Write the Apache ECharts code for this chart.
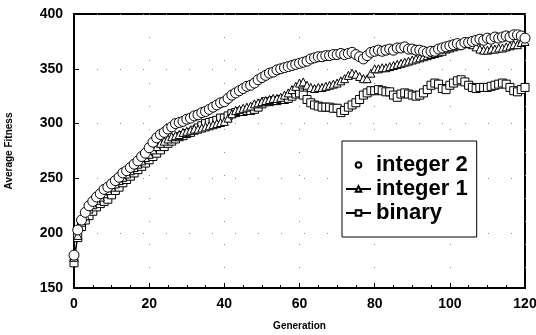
<!DOCTYPE html>
<html>
<head>
<meta charset="utf-8">
<script src="https://cdn.jsdelivr.net/npm/echarts@6/dist/echarts.min.js"></script>
<style>
  html, body { margin: 0; padding: 0; background: #fff; }
  #chart { width: 536px; height: 335px; }
</style>
</head>
<body>
<div id="chart"></div>
<script>
// average fitness per generation (index = generation 0..120)
var integer2 = [180, 203, 212, 219, 225, 229, 233, 236, 240, 242,
  245, 248, 251, 255, 257, 260, 263, 266, 270, 273,
  278, 283, 287, 290, 292, 295, 297, 300, 301, 302,
  304, 305, 307, 308, 310, 311, 313, 315, 317, 319,
  320, 323, 326, 328, 330, 332, 334, 335, 337, 340,
  342, 344, 346, 347, 349, 350, 351, 352, 353, 354,
  355, 356, 357, 359, 360, 361, 361, 362, 362, 363,
  363, 364, 363, 364, 365, 363, 361, 359, 362, 365,
  366, 367, 366, 367, 368, 367, 369, 369, 370, 368,
  368, 367, 367, 366, 365, 366, 366, 368, 369, 370,
  371, 372, 373, 372, 374, 374, 375, 376, 377, 376,
  378, 377, 379, 378, 379, 380, 379, 381, 381, 380, 378];

var integer1 = [178, 198, 210, 216, 222, 226, 230, 233, 236, 239,
  242, 245, 248, 251, 254, 257, 260, 263, 266, 269,
  272, 276, 279, 282, 284, 286, 288, 289, 290, 292,
  293, 294, 295, 295, 296, 297, 298, 299, 300, 301,
  302, 305, 309, 312, 313, 314, 315, 316, 318, 319,
  320, 321, 322, 323, 323, 324, 326, 328, 331, 334,
  337, 338, 335, 333, 332, 333, 333, 334, 335, 336,
  337, 339, 341, 344, 346, 345, 343, 341, 341, 346,
  350, 350, 351, 351, 352, 353, 354, 355, 356, 357,
  358, 359, 360, 361, 362, 363, 364, 365, 366, 368,
  369, 370, 371, 372, 373, 373, 372, 370, 368, 367,
  367, 368, 368, 369, 369, 370, 371, 372, 372, 374, 375];

var binary = [173, 196, 206, 212, 216, 220, 224, 227, 229, 231,
  235, 239, 242, 246, 249, 252, 255, 258, 261, 264,
  267, 270, 273, 276, 279, 282, 284, 286, 288, 289,
  291, 292, 294, 296, 298, 300, 301, 302, 303, 305,
  305, 307, 309, 310, 311, 311, 312, 312, 313, 315,
  318, 320, 320, 321, 321, 322, 322, 323, 325, 327,
  328, 326, 322, 319, 317, 316, 315, 315, 315, 314,
  314, 310, 312, 315, 317, 319, 322, 326, 328, 330,
  330, 331, 330, 329, 329, 326, 324, 327, 328, 327,
  326, 325, 326, 328, 331, 335, 337, 336, 332, 331,
  335, 337, 339, 340, 338, 335, 333, 332, 333, 333,
  333, 334, 335, 336, 337, 336, 333, 330, 329, 331, 333];

var toPoints = function (arr) {
  return arr.map(function (v, i) { return [i, v]; });
};

var chartDom = document.getElementById("chart");
var myChart = echarts.init(chartDom);
var option;

var axisFont = {
  color: "#000",
  fontFamily: "Liberation Sans",
  fontWeight: "bold",
};

option = {
  animation: false,
  backgroundColor: "#fff",
  grid: {
    left: 74,
    right: 11,
    top: 14,
    bottom: 47,
    outerBoundsMode: "none",
    show: true,
    borderColor: "#000",
    borderWidth: 2,
  },
  legend: {
    orient: "vertical",
    left: 342,
    top: 141,
    padding: [13, 9, 13, 3],
    itemGap: 2,
    itemWidth: 25,
    itemHeight: 7,
    backgroundColor: "#fff",
    borderColor: "#000",
    borderWidth: 1,
    textStyle: {
      color: "#000",
      fontFamily: "Liberation Sans",
      fontWeight: "bold",
      fontSize: 22,
      lineHeight: 22,
    },
    data: ["integer 2", "integer 1", "binary"],
  },
  xAxis: {
    type: "value",
    min: 0,
    max: 120,
    interval: 20,
    name: "Generation",
    nameLocation: "middle",
    nameGap: 33,
    nameTextStyle: Object.assign({ fontSize: 10 }, axisFont),
    axisLine: { lineStyle: { color: "#000", width: 2 } },
    axisTick: { inside: true, length: 5, lineStyle: { color: "#000" } },
    minorTick: { show: true, splitNumber: 4, length: 3, lineStyle: { color: "#000" } },
    axisLabel: Object.assign({ fontSize: 14, margin: 9 }, axisFont),
    splitLine: { show: true, lineStyle: { color: "#888", type: [1, 22] } },
  },
  yAxis: {
    type: "value",
    min: 150,
    max: 400,
    interval: 50,
    name: "Average Fitness",
    nameLocation: "middle",
    nameGap: 60,
    nameTextStyle: Object.assign({ fontSize: 10 }, axisFont),
    axisLine: { show: true, lineStyle: { color: "#000", width: 2 } },
    axisTick: { show: true, inside: true, length: 5, lineStyle: { color: "#000" } },
    axisLabel: Object.assign({ fontSize: 14, margin: 11 }, axisFont),
    splitLine: { show: true, lineStyle: { color: "#888", type: [1, 22] } },
  },
  series: [
    {
      name: "binary",
      type: "line",
      data: toPoints(binary),
      symbol: "rect",
      symbolSize: 8,
      lineStyle: { color: "#000", width: 1 },
      itemStyle: { color: "#fff", borderColor: "#000", borderWidth: 1 },
    },
    {
      name: "integer 1",
      type: "line",
      data: toPoints(integer1),
      symbol: "triangle",
      symbolSize: 8,
      lineStyle: { color: "#000", width: 1 },
      itemStyle: { color: "#fff", borderColor: "#000", borderWidth: 1 },
    },
    {
      name: "integer 2",
      type: "line",
      data: toPoints(integer2),
      symbol: "circle",
      symbolSize: 10,
      lineStyle: { width: 0 },
      itemStyle: { color: "#fff", borderColor: "#000", borderWidth: 1 },
    },
  ],
};

option && myChart.setOption(option);
</script>
</body>
</html>
